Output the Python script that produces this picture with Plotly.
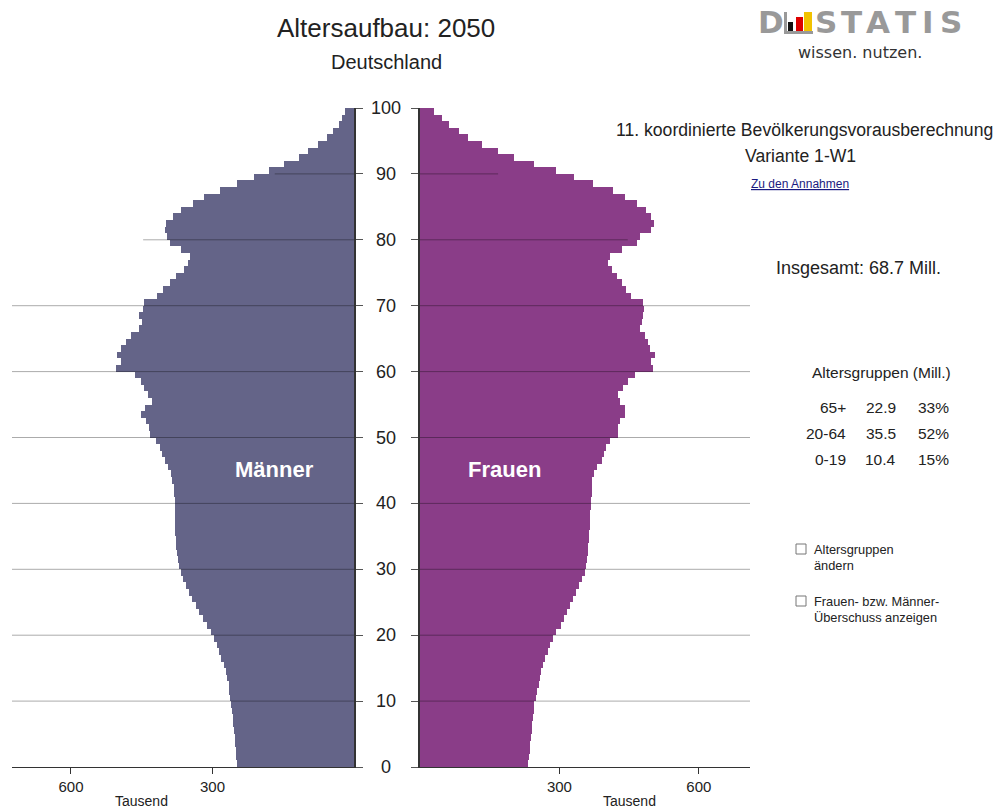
import plotly.graph_objects as go

# ---------------- data ----------------
ages = list(range(100))  # age groups 0 .. 99 (bar spans age .. age+1)

maenner = [249, 250, 251, 252, 253, 254, 256, 257, 259, 261,
           262, 264, 266, 269, 272, 276, 281, 286, 291, 297,
           303, 312, 320, 328, 335, 343, 350, 357, 362, 367,
           371, 374, 376, 377, 378, 379, 379, 380, 380, 380,
           380, 381, 382, 385, 387, 394, 401, 408, 412, 419,
           433, 435, 440, 452, 443, 429, 436, 445, 452, 464,
           505, 495, 502, 495, 483, 472, 455, 450, 455, 447,
           446, 418, 404, 391, 377, 361, 352, 348, 367, 390,
           397, 401, 398, 383, 367, 342, 319, 285, 247, 213,
           180, 149, 117, 97, 76, 58, 45, 32, 26, 19]

frauen = [233, 234, 236, 237, 238, 240, 241, 243, 245, 246,
          249, 252, 255, 258, 261, 265, 270, 275, 280, 287,
          293, 303, 310, 317, 323, 330, 336, 343, 349, 354,
          357, 359, 361, 362, 363, 364, 365, 365, 366, 367,
          368, 369, 369, 371, 375, 380, 391, 396, 401, 409,
          426, 427, 430, 442, 441, 430, 427, 437, 448, 462,
          502, 498, 505, 495, 490, 484, 473, 477, 480, 482,
          479, 455, 444, 435, 423, 413, 405, 408, 434, 466,
          474, 497, 503, 497, 487, 466, 440, 416, 373, 331,
          292, 246, 203, 167, 133, 104, 84, 63, 48, 30]

age_ticks = list(range(0, 101, 10))
x_ticks = [300, 600]
x_tick_labels = ["300", "600"]

group_labels = ["65+", "20-64", "0-19"]
group_mill = ["22.9", "35.5", "10.4"]
group_pct = ["33%", "52%", "15%"]

# ---------------- style ----------------
W, H = 1001, 810
MEN = "#646488"
WOMEN = "#8a3d88"
FONT = "Arial, Liberation Sans, sans-serif"
TXT = "#222222"
GRID = "rgba(0,0,0,0.33)"


def px(x):
    return x / W


def py(y):
    return 1 - y / H


centers = [a + 0.5 for a in ages]

fig = go.Figure()
fig.add_trace(go.Bar(x=maenner, y=centers, orientation="h", width=1,
                     marker=dict(color=MEN, line=dict(width=0)),
                     xaxis="x", yaxis="y", name="Männer", hoverinfo="skip"))
fig.add_trace(go.Bar(x=frauen, y=centers, orientation="h", width=1,
                     marker=dict(color=WOMEN, line=dict(width=0)),
                     xaxis="x2", yaxis="y2", name="Frauen", hoverinfo="skip"))

ydom = [(H - 767) / H, (H - 108) / H]
common_x = dict(tickvals=x_ticks, ticktext=x_tick_labels, ticks="outside", ticklen=6,
                tickcolor="#333", showline=True, linecolor="#333", linewidth=1,
                showgrid=False, zeroline=False, fixedrange=True,
                tickfont=dict(family=FONT, size=15, color=TXT))
common_y = dict(domain=ydom, range=[0, 100], tickvals=age_ticks, ticks="outside",
                ticklen=7, tickcolor="#555", showticklabels=False, showline=True,
                linecolor="#333", linewidth=2, showgrid=False, zeroline=False,
                fixedrange=True)

fig.update_layout(
    width=W, height=H,
    margin=dict(l=0, r=0, t=0, b=0),
    paper_bgcolor="white", plot_bgcolor="rgba(0,0,0,0)",
    showlegend=False, bargap=0,
    font=dict(family=FONT, color=TXT),
    xaxis=dict(domain=[12 / W, 354 / W], range=[725, 0], anchor="y", **common_x),
    yaxis=dict(anchor="x", side="right", **common_y),
    xaxis2=dict(domain=[420 / W, 750 / W], range=[0, 710], anchor="y2", **common_x),
    yaxis2=dict(anchor="x2", side="left", **common_y),
)

# horizontal grid lines (drawn over the bars)
grid_ext_left = [725] * 7 + [447, 168]
grid_ext_right = [710] * 7 + [447, 168]
shapes = []
for g, el, er in zip(age_ticks[1:10], grid_ext_left, grid_ext_right):
    shapes.append(dict(type="line", xref="x", yref="y", x0=el, x1=0, y0=g, y1=g,
                       line=dict(color=GRID, width=1), layer="above"))
    shapes.append(dict(type="line", xref="x2", yref="y2", x0=0, x1=er, y0=g, y1=g,
                       line=dict(color=GRID, width=1), layer="above"))

annotations = []
# age labels in the middle
for g in age_ticks:
    annotations.append(dict(x=px(386), xref="paper", y=g, yref="y", text=str(g),
                            showarrow=False, xanchor="center", yanchor="middle",
                            font=dict(size=18, color="#222")))

def ann(text, x, y, size, color=TXT, xanchor="center", bold=False, family=FONT):
    if bold:
        text = "<b>" + text + "</b>"
    annotations.append(dict(x=px(x), y=py(y), xref="paper", yref="paper", text=text,
                            showarrow=False, xanchor=xanchor, yanchor="middle",
                            font=dict(size=size, color=color, family=family)))

ann("Altersaufbau: 2050", 386, 28, 26)
ann("Deutschland", 386, 62, 20)
ann("Männer", 274, 469, 22, color="white", bold=True)
ann("Frauen", 504, 469, 22, color="white", bold=True)
ann("Tausend", 141, 801, 14)
ann("Tausend", 629, 801, 14)

ann("11. koordinierte Bevölkerungsvorausberechnung", 804, 130, 17.6)
ann("Variante 1-W1", 800, 156, 17.6)
ann("<u>Zu den Annahmen</u>", 800, 184, 12, color="#1a1a80")
ann("Insgesamt: 68.7 Mill.", 858, 268, 18)
ann("Altersgruppen (Mill.)", 881, 372, 15.5)
for i, (gl, gm, gp) in enumerate(zip(group_labels, group_mill, group_pct)):
    yy = 407 + i * 26
    ann(gl, 848, yy, 15.5, xanchor="right")
    ann(gm, 898, yy, 15.5, xanchor="right")
    ann(gp, 951, yy, 15.5, xanchor="right")

ann("Altersgruppen", 812, 549, 12.8, xanchor="left")
ann("ändern", 812, 565, 12.8, xanchor="left")
ann("Frauen- bzw. Männer-", 812, 601, 12.8, xanchor="left")
ann("Überschuss anzeigen", 812, 617, 12.8, xanchor="left")
for cy in (549, 601):
    shapes.append(dict(type="rect", xref="paper", yref="paper",
                       x0=px(796), x1=px(806), y0=py(cy - 5), y1=py(cy + 5),
                       line=dict(color="#777", width=1), fillcolor="white"))

# DESTATIS logo
LOGO_GRAY = "#999999"
LOGO_FONT = "DejaVu Sans, sans-serif"
for ch, cx in zip("DSTATIS", [771, 826, 851, 878, 905, 928, 951]):
    ann(ch, cx, 22, 31, color=LOGO_GRAY, bold=True, family=LOGO_FONT)
ann("wissen. nutzen.", 860, 52, 16, color="#333", family=LOGO_FONT)
for (x0, x1, y0, c) in [(788, 793, 22, "#111111"), (796, 803, 17, "#dd0000"),
                        (804, 812, 12, "#f2c200")]:
    shapes.append(dict(type="rect", xref="paper", yref="paper", x0=px(x0), x1=px(x1),
                       y0=py(32), y1=py(y0), fillcolor=c, line=dict(width=0)))
shapes.append(dict(type="rect", xref="paper", yref="paper", x0=px(784), x1=px(787),
                   y0=py(32), y1=py(12), fillcolor=LOGO_GRAY, line=dict(width=0)))
shapes.append(dict(type="rect", xref="paper", yref="paper", x0=px(784), x1=px(813),
                   y0=py(34), y1=py(31), fillcolor=LOGO_GRAY, line=dict(width=0)))

fig.update_layout(shapes=shapes, annotations=annotations)

fig.write_html("out.html", config={"displayModeBar": False},
               post_script="document.body.style.margin='0';")
